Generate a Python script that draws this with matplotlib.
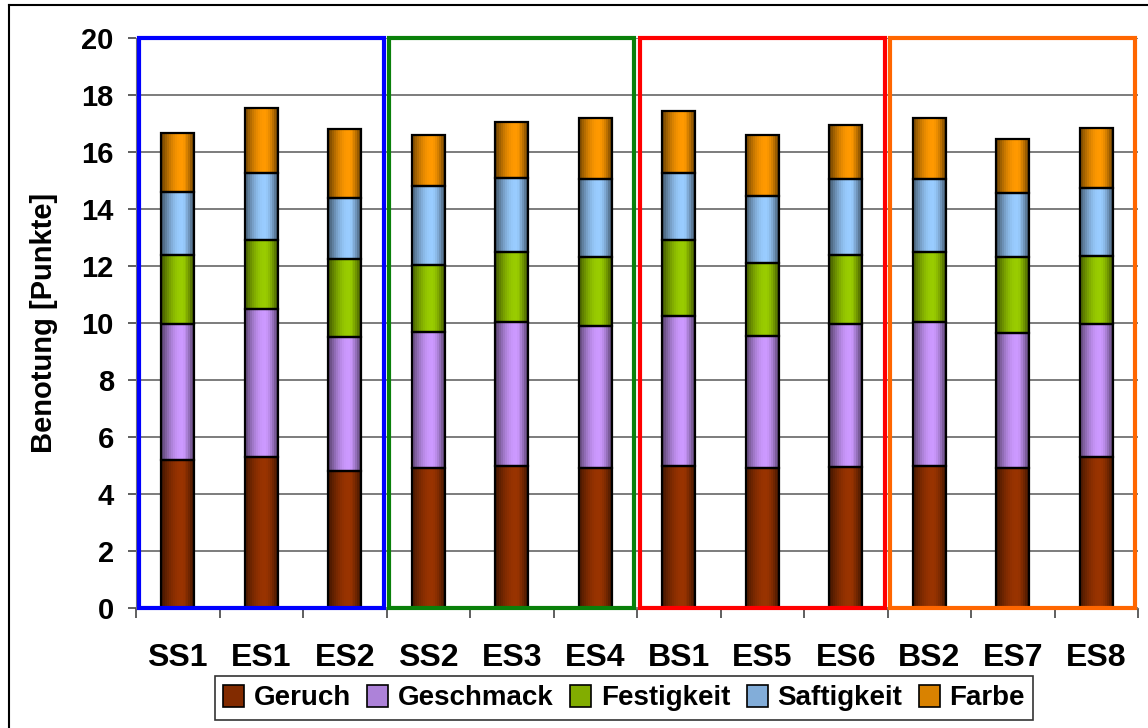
import numpy as np
import matplotlib
matplotlib.use("Agg")
import matplotlib.pyplot as plt
from matplotlib.patches import Rectangle
from matplotlib.lines import Line2D
from matplotlib.colors import to_rgb

proben = ["SS1", "ES1", "ES2", "SS2", "ES3", "ES4", "BS1", "ES5", "ES6", "BS2", "ES7", "ES8"]

# Einzelwerte (Punkte) je Merkmal
geruch = [5.2, 5.3, 4.8, 4.9, 5.0, 4.9, 5.0, 4.9, 4.95, 5.0, 4.9, 5.3]
geschmack = [4.75, 5.2, 4.7, 4.8, 5.05, 5.0, 5.25, 4.65, 5.0, 5.05, 4.75, 4.65]
festigkeit = [2.45, 2.4, 2.75, 2.35, 2.45, 2.4, 2.65, 2.55, 2.45, 2.45, 2.65, 2.4]
saftigkeit = [2.2, 2.35, 2.15, 2.75, 2.6, 2.75, 2.35, 2.35, 2.65, 2.55, 2.25, 2.4]
farbe = [2.05, 2.3, 2.4, 1.8, 1.95, 2.15, 2.2, 2.15, 1.9, 2.15, 1.9, 2.1]

merkmale = ["Geruch", "Geschmack", "Festigkeit", "Saftigkeit", "Farbe"]
farben = ["#993300", "#cc99ff", "#99cc00", "#99ccff", "#ff9900"]

gruppen_farben = ["#0000ff", "#0a800a", "#ff0000", "#ff6600"]

plt.rcParams["font.family"] = ["Liberation Sans", "DejaVu Sans"]
plt.rcParams["font.weight"] = "bold"

BREITE = 0.4
N_STREIFEN = 17


def verlauf_faktor(n):
    # Excel-artiger Farbverlauf: dunkel an den Raendern, hell bei ca. 60 %
    t = (np.arange(n) + 0.5) / n
    u = np.where(t < 0.6, t / 0.6, (1 - t) / 0.4)
    return 0.4 + 0.6 * np.sin(np.pi / 2 * u)


fig = plt.figure(figsize=(11.48, 7.28), dpi=100)
ax = fig.add_axes([136 / 1148, 1 - 608 / 728, (1138 - 136) / 1148, (608 - 38) / 728])

x = np.arange(len(proben))
boden = np.zeros(len(proben))
faktoren = verlauf_faktor(N_STREIFEN)
sw = BREITE / N_STREIFEN
for werte, name, col in zip([geruch, geschmack, festigkeit, saftigkeit, farbe], merkmale, farben):
    werte = np.array(werte)
    rgb = np.array(to_rgb(col))
    # leichter Schatten rechts
    ax.bar(x + 0.012, werte, width=BREITE, bottom=boden, color="#c8c8c8",
           linewidth=0, zorder=2.5)
    # Verlauf als schmale Streifen
    for k, f in enumerate(faktoren):
        streifen_farbe = tuple(np.clip(rgb * f, 0, 1))
        ax.bar(x - BREITE / 2 + (k + 0.5) * sw, werte, width=sw * 1.1, bottom=boden,
               facecolor=streifen_farbe, edgecolor="none", linewidth=0, zorder=3)
    # Umriss
    ax.bar(x, werte, width=BREITE, bottom=boden, fill=False, edgecolor="black",
           linewidth=1.6, zorder=4)
    boden += werte

# Gruppenrahmen
for i, gc in enumerate(gruppen_farben):
    ax.add_patch(Rectangle((i * 3 - 0.5 + 0.03, 0), 2.94, 20, fill=False,
                           edgecolor=gc, linewidth=3, zorder=5, clip_on=False))

ax.set_xlim(-0.5, 11.5)
ax.set_ylim(0, 20)
ax.set_yticks(np.arange(0, 21, 2))
ax.yaxis.grid(True, color="#666666", linewidth=1.2, zorder=0)
ax.set_axisbelow(True)

ax.set_xticks(x)
ax.set_xticklabels(proben, fontsize=23, fontweight="bold")
ax.set_xticks(np.arange(-0.5, 12, 1), minor=True)
ax.tick_params(axis="x", which="major", length=0, pad=25)
ax.tick_params(axis="x", which="minor", length=7, color="#444444", width=1.2)
ax.tick_params(axis="y", length=6, color="#444444", width=1.2, pad=10, labelsize=21)
for lbl in ax.get_yticklabels():
    lbl.set_fontweight("bold")

for s in ["top", "right"]:
    ax.spines[s].set_visible(False)
ax.spines["left"].set_color("#777777")
ax.spines["bottom"].set_color("#777777")

ax.set_ylabel("Benotung [Punkte]", fontsize=21, fontweight="bold")
ax.yaxis.set_label_coords(-0.078, 0.5)

# Legende
handles = []
for c in farben:
    handles.append(Rectangle((0, 0), 1, 1, facecolor=tuple(np.clip(np.array(to_rgb(c)) * 0.85, 0, 1)),
                             edgecolor="black", linewidth=1.2))
leg = fig.legend(handles, merkmale, loc="center", bbox_to_anchor=(624 / 1148, 1 - 698 / 728),
                 ncol=5, frameon=True, fancybox=False, edgecolor="black",
                 handlelength=0.75, handleheight=0.85, handletextpad=0.35, columnspacing=0.6,
                 borderpad=0.3, prop={"weight": "bold", "size": 20})
leg.get_frame().set_linewidth(1.2)

# Rahmen des Diagrammbereichs (links und oben sichtbar)
fig.add_artist(Line2D([9 / 1148, 9 / 1148], [0, 1 - 5 / 728], transform=fig.transFigure,
                      color="black", linewidth=1.5))
fig.add_artist(Line2D([9 / 1148, 1], [1 - 5 / 728, 1 - 5 / 728], transform=fig.transFigure,
                      color="black", linewidth=1.5))

fig.savefig("out.png", dpi=100)
